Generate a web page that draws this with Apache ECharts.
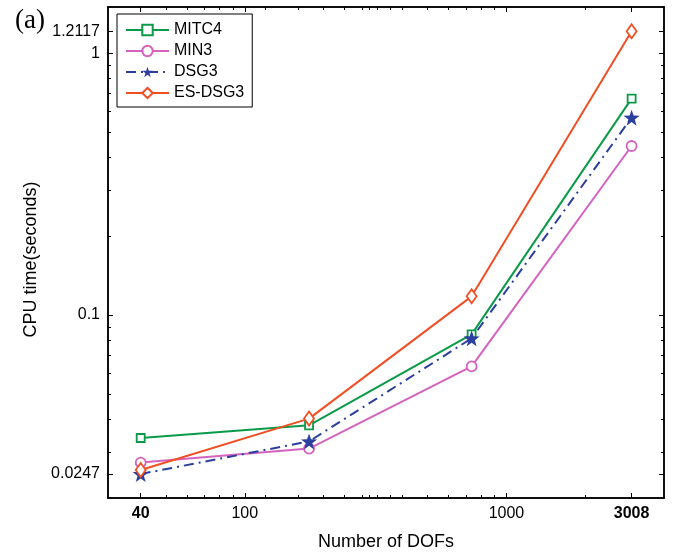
<!DOCTYPE html>
<html>
<head>
<meta charset="utf-8">
<script src="https://cdn.jsdelivr.net/npm/echarts@6/dist/echarts.min.js"></script>
<style>html,body{margin:0;padding:0;background:#fff;}#c{width:677px;height:556px;}</style>
</head>
<body>
<div id="c"></div>
<script>
// ---- data ----
const dofs = [40, 176, 736, 3008];
const mitc4 = [0.0339, 0.0379, 0.0843, 0.670];
const min3 = [0.0273, 0.0309, 0.0636, 0.4418];
const dsg3 = [0.0247, 0.0329, 0.0814, 0.567];
const esdsg3 = [0.0256, 0.0402, 0.1178, 1.2117];
const seriesNames = ['MITC4', 'MIN3', 'DSG3', 'ES-DSG3'];
const xLabelTicks = [40, 100, 1000, 3008];
const xBoldTicks = [40, 3008];
const xMinorTicks = [50, 60, 70, 80, 90, 120, 160, 200, 240, 280, 300, 320, 360, 400, 500, 600, 700, 800, 900, 2000];
const yLabelTicks = [0.0247, 0.1, 1, 1.2117];
const yMinorTicks = [0.03, 0.04, 0.05, 0.06, 0.07, 0.08, 0.09, 0.2, 0.3, 0.4, 0.5, 0.6, 0.7, 0.8, 0.9];

const xMin = 30, xMax = 4000, yMin = 0.02, yMax = 1.5;
const font = '"Liberation Sans", Arial, sans-serif';
const axisLine = {show: true, onZero: false, lineStyle: {color: '#000', width: 1.5}};

function xAx(pos, ticks, len, labels) {
  return {
    type: 'log', logBase: 10, min: xMin, max: xMax, position: pos,
    axisLine: axisLine, splitLine: {show: false}, minorTick: {show: false},
    axisTick: {show: true, inside: true, length: len, customValues: ticks, lineStyle: {color: '#000', width: 1}},
    axisLabel: labels ? {
      show: true, customValues: ticks, margin: 8, fontFamily: font, fontSize: 16, color: '#000',
      formatter: function (v) {
        const r = Math.round(v);
        return xBoldTicks.indexOf(r) >= 0 ? '{b|' + r + '}' : String(r);
      },
      rich: {b: {fontWeight: 'bold', fontFamily: font, fontSize: 16, color: '#000'}}
    } : {show: false},
    name: labels ? 'Number of DOFs' : '', nameLocation: 'middle', nameGap: 35,
    nameTextStyle: {fontFamily: font, fontSize: 18, color: '#000'}
  };
}
function yAx(pos, ticks, len, labels) {
  return {
    type: 'log', logBase: 10, min: yMin, max: yMax, position: pos,
    axisLine: axisLine, splitLine: {show: false}, minorTick: {show: false},
    axisTick: {show: true, inside: true, length: len, customValues: ticks, lineStyle: {color: '#000', width: 1}},
    axisLabel: labels ? {
      show: true, customValues: ticks, margin: 8, fontFamily: font, fontSize: 16, color: '#000',
      formatter: function (v) {
        for (const t of yLabelTicks) { if (Math.abs(v - t) / t < 1e-6) return String(t); }
        return String(v);
      }
    } : {show: false},
    name: labels ? 'CPU time(seconds)' : '', nameLocation: 'middle', nameGap: 63,
    nameTextStyle: {fontFamily: font, fontSize: 18, color: '#000', padding: [0, 14, 0, 0]}
  };
}

const star = 'path://M0,-10 L2.35,-3.24 9.51,-3.09 3.8,1.24 5.88,8.09 0,4 -5.88,8.09 -3.8,1.24 -9.51,-3.09 -2.35,-3.24Z';

function mk(name, vals, color, symbol, size, filled, lineType) {
  return {
    name: name, type: 'line', xAxisIndex: 0, yAxisIndex: 0,
    data: dofs.map((d, i) => [d, vals[i]]),
    symbol: symbol, symbolSize: size, showSymbol: true,
    lineStyle: {color: color, width: 2, type: lineType || 'solid'},
    itemStyle: {color: filled ? color : '#fff', borderColor: color, borderWidth: filled ? 0 : 1.8},
    emphasis: {disabled: true}, z: 3
  };
}

const chart = echarts.init(document.getElementById('c'), null, {renderer: 'canvas'});
chart.setOption({
  animation: false,
  backgroundColor: '#fff',
  grid: {left: 108, right: 13, top: 7, bottom: 58, containLabel: false},
  xAxis: [
    xAx('bottom', xLabelTicks, 5, true),
    xAx('bottom', xMinorTicks, 3, false),
    xAx('top', xLabelTicks, 5, false),
    xAx('top', xMinorTicks, 3, false)
  ],
  yAxis: [
    yAx('left', yLabelTicks, 5, true),
    yAx('left', yMinorTicks, 3, false),
    yAx('right', yLabelTicks, 5, false),
    yAx('right', yMinorTicks, 3, false)
  ],
  legend: {
    show: true, orient: 'vertical', left: 117, top: 14,
    data: seriesNames,
    backgroundColor: '#fff', borderColor: '#000', borderWidth: 1,
    padding: [8, 8, 6, 8], itemGap: 5, itemWidth: 43, itemHeight: 13,
    textStyle: {fontFamily: font, fontSize: 16, color: '#000'}
  },
  graphic: [{
    type: 'text', left: 15, top: 7,
    style: {text: '(a)', font: '27px "Liberation Serif", "Times New Roman", serif', fill: '#000'}
  }],
  series: [
    mk('MITC4', mitc4, '#0a9a48', 'rect', 8, false),
    mk('MIN3', min3, '#d462bf', 'circle', 10, false),
    mk('DSG3', dsg3, '#2b3f9e', star, 16, true, [10, 5, 2, 5]),
    mk('ES-DSG3', esdsg3, '#f04e23', 'diamond', [10, 14], false)
  ]
});
</script>
</body>
</html>
